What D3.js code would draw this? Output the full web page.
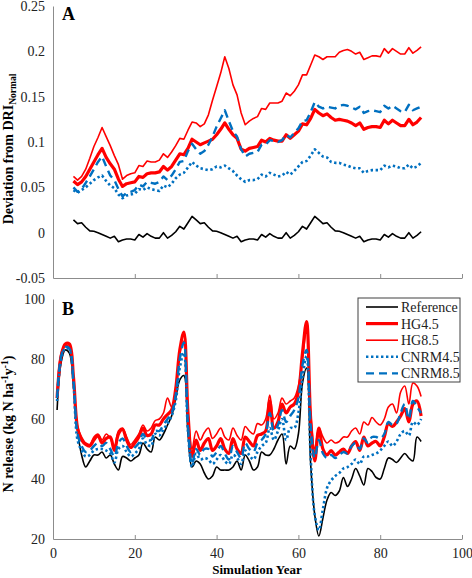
<!DOCTYPE html>
<html><head><meta charset="utf-8">
<script src="https://cdn.jsdelivr.net/npm/d3@7"></script>
<style>
html,body{margin:0;padding:0;background:#fff;}
svg{display:block;font-family:"Liberation Serif","Times New Roman",serif;}
</style></head>
<body>
<svg id="chart" width="472" height="578"></svg>
<script>
// ---------- DATA ----------
const seriesNames = ["Reference", "HG4.5", "HG8.5", "CNRM4.5", "CNRM8.5"];
const yearsA = d3.range(5, 91);   // simulation years shown in panel A
const yearsB = d3.range(1, 91);   // simulation years shown in panel B
const yTicksA = [-0.05, 0, 0.05, 0.1, 0.15, 0.2, 0.25];
const yTicksB = [20, 40, 60, 80, 100];
const xTicks = [0, 20, 40, 60, 80, 100];

// Panel A: deviation from DRI_Normal (years 5..90)
const refA = [0.014,0.010,0.011,0.006,0.002,0.0015,0.000,-0.002,-0.004,-0.006,-0.004,-0.010,-0.008,-0.007,-0.007,-0.008,-0.002,-0.005,-0.001,-0.004,-0.006,-0.006,0.000,-0.006,-0.003,0.001,0.007,0.004,0.011,0.018,
  0.014,0.010,0.011,0.006,0.002,0.0015,0.000,-0.002,-0.004,-0.006,-0.004,-0.010,-0.008,-0.007,-0.007,-0.008,-0.002,-0.005,-0.001,-0.004,-0.006,-0.006,0.000,-0.006,-0.003,0.001,0.007,0.004,0.011,0.018,
  0.014,0.010,0.011,0.006,0.002,0.0015,0.000,-0.002,-0.004,-0.006,-0.004,-0.010,-0.008,-0.007,-0.007,-0.008,-0.002,-0.005,-0.001,-0.004,-0.006,-0.006,0.000,-0.006,-0.003,0.001];
const hg45A = [0.057,0.053,0.056,0.062,0.070,0.078,0.086,0.093,0.083,0.076,0.070,0.059,0.051,0.054,0.055,0.056,0.062,0.061,0.065,0.066,0.066,0.067,0.073,0.069,0.073,0.080,0.087,0.086,0.093,0.103,
  0.100,0.097,0.099,0.101,0.103,0.108,0.114,0.121,0.114,0.108,0.104,0.092,0.090,0.093,0.094,0.095,0.102,0.100,0.104,0.102,0.101,0.101,0.108,0.104,0.108,0.112,0.120,0.119,0.126,0.136,
  0.132,0.129,0.131,0.127,0.124,0.125,0.124,0.123,0.121,0.118,0.121,0.114,0.116,0.117,0.117,0.116,0.124,0.120,0.124,0.121,0.118,0.118,0.125,0.119,0.122,0.127];
const hg85A = [0.062,0.058,0.062,0.070,0.082,0.095,0.105,0.116,0.106,0.096,0.085,0.075,0.059,0.063,0.065,0.066,0.074,0.073,0.079,0.078,0.078,0.080,0.087,0.083,0.089,0.096,0.104,0.103,0.113,0.122,
  0.121,0.117,0.120,0.130,0.146,0.161,0.176,0.194,0.181,0.163,0.152,0.132,0.119,0.123,0.126,0.128,0.137,0.136,0.143,0.143,0.143,0.145,0.154,0.151,0.156,0.163,0.174,0.174,0.185,0.196,
  0.194,0.191,0.194,0.194,0.194,0.199,0.201,0.202,0.200,0.197,0.199,0.191,0.193,0.195,0.195,0.194,0.203,0.198,0.203,0.200,0.197,0.197,0.204,0.198,0.201,0.205];
const cnrm45A = [0.047,0.044,0.047,0.050,0.054,0.058,0.061,0.063,0.057,0.052,0.049,0.042,0.038,0.041,0.042,0.043,0.048,0.047,0.050,0.048,0.047,0.046,0.052,0.050,0.054,0.060,0.064,0.066,0.072,0.078,
  0.074,0.071,0.070,0.069,0.070,0.073,0.072,0.074,0.071,0.068,0.063,0.059,0.056,0.058,0.058,0.059,0.064,0.062,0.066,0.064,0.062,0.063,0.067,0.064,0.068,0.073,0.078,0.079,0.085,0.092,
  0.088,0.084,0.083,0.078,0.077,0.077,0.075,0.074,0.072,0.071,0.071,0.066,0.068,0.069,0.069,0.069,0.074,0.072,0.074,0.073,0.071,0.071,0.075,0.071,0.073,0.077];
const cnrm85A = [0.050,0.045,0.048,0.055,0.062,0.070,0.078,0.084,0.073,0.063,0.058,0.048,0.040,0.044,0.045,0.047,0.053,0.051,0.056,0.055,0.054,0.056,0.062,0.058,0.063,0.070,0.078,0.079,0.090,0.098,
  0.092,0.087,0.090,0.097,0.106,0.117,0.126,0.135,0.123,0.112,0.106,0.092,0.084,0.087,0.088,0.089,0.097,0.097,0.102,0.101,0.100,0.102,0.108,0.105,0.110,0.115,0.123,0.124,0.133,0.144,
  0.139,0.137,0.139,0.138,0.137,0.140,0.141,0.140,0.138,0.136,0.139,0.132,0.134,0.135,0.134,0.133,0.140,0.137,0.140,0.137,0.134,0.133,0.141,0.135,0.137,0.139];

// Panel B: N release, kg N ha-1 y-1 (years 1..90)
const refB = [63,79,83,82,71,56,48,44,46,48,48,49,47,48,45,43,47.5,47,46,47,48,52,50,49,54,53,55,58,61,67,
  73,74.5,55,44,46,45,42,40,41,44,43,43,43,44,46,43,48,46,43,44,49,48,48,50,53,55,45,51,50,55,
  72,77,45,28,21,27,33,35.5,34.5,36,40.5,37.5,40,43.5,41,38,43.5,42.5,40.5,40,43.5,47,46.5,45.5,47,48.5,47,46,54,52.5];
const hg45B = [67,81,85,85,74,57,53,51.5,51,53,54.5,52,53.5,54,49.5,55,56.5,53,50.5,52,54,57,54.5,55,58,58,60,61.5,63,70,
  83,89,62,47.5,53,49.5,52,53.5,49.5,51,53.5,50,48.5,53.5,50,48.5,54,52.5,51,54.5,55,56,66,57,59,65,62,64,65,69,
  82,92.5,60,46,57,50,48,49.5,48,49,50,48.5,51,52.5,49.5,54,51,52,52.5,51,54,58.5,57.5,59,61,63.5,59,65,66,61];
const hg85B = [68,82,84.5,84,73,57.5,54,52,51.5,54,55,53,55,53.5,50.5,56,57,54,51.5,53,55,58,56,57,59.5,60,62,67,64,69,
  82,86,62,50,56,53,55.5,57,53.5,55,57,54,53,57,54.5,53,57.5,56,55,58.5,58,60,68,60,62,67,65,66,67,71,
  80,90,62,50,57,54,52,53,52,52.5,54,54,56,57,55,59,58,60.5,59,58,60,64,65,62,69,71,65,72,71,67.5];
const cnrm45B = [66,80,83.5,83,72,53,49.5,47.5,48,49.5,50,50,49.5,48.5,45.5,50,51,49,47.5,48.5,50,53.5,51.5,51,55,54.5,56.5,58.5,61,66,
  77,82,56,44,48.5,46.5,47,46.5,45,46.5,48,46,45,48,47,45,49.5,48,46.5,49,51,52,57,53,56,60,53,57,57,62,
  74,81,47,28,23,30,37,39.5,41,42,43.5,44,45,46.5,45,47.5,47.5,48,48.5,49.5,51,52.5,51,52.5,55,56,54.5,59,58,60];
const cnrm85B = [67,81,84,83.5,73,55,51,49,49.5,51,52,51,52,50,47.5,52,53.5,51,49,50.5,52,55,53,53,56,56,58,60,62,68,
  80,85.5,58,45,50,48,50,50,47.5,49,51,48.5,46.5,51,49,47,52,50,49,52,53,55,62,56,58,63,59,61,63,67,
  78,83,58,47,53,48.5,47,48,47,48,49,48.5,51,52,50,53.5,52,54,54,53.5,55,59,58,58.5,62,65,60,66,64,62];

// ---------- DRAWING ----------
const svg = d3.select("#chart");
const serif = '"Liberation Serif","Times New Roman",serif';
const axisColor = "#8c8c8c";
const styles = [
  {color:"#000000", width:1.6, dash:null},
  {color:"#ff0000", width:3.2, dash:null},
  {color:"#ff0000", width:1.6, dash:null},
  {color:"#0070c0", width:2.6, dash:"2.4,2.6"},
  {color:"#0070c0", width:2.4, dash:"8,5"}
];

const x = d3.scaleLinear().domain([0, 100]).range([53, 462]);
const yA = d3.scaleLinear().domain([-0.05, 0.25]).range([278, 6]);
const yB = d3.scaleLinear().domain([20, 100]).range([539, 299]);

function styleAxis(g){
  g.attr("font-family", serif).attr("font-size", 14);
  g.select(".domain").attr("stroke", axisColor).attr("stroke-width", 1);
  g.selectAll(".tick line").attr("stroke", axisColor);
  g.selectAll(".tick text").attr("fill", "#222").attr("font-size", 14).attr("font-family", serif);
}

// Panel A axes
svg.append("g").attr("transform", "translate(53,0)")
  .call(d3.axisLeft(yA).tickValues(yTicksA).tickSize(0).tickPadding(8)
    .tickFormat(d => d === 0 ? "0" : String(d).replace("\u2212","-")))
  .call(styleAxis);
svg.append("g").attr("transform", "translate(0,278)")
  .call(d3.axisBottom(x).tickValues(xTicks).tickSizeInner(-4).tickSizeOuter(0).tickFormat(""))
  .call(styleAxis);

// Panel B axes
svg.append("g").attr("transform", "translate(53,0)")
  .call(d3.axisLeft(yB).tickValues(yTicksB).tickSize(0).tickPadding(8))
  .call(styleAxis);
svg.append("g").attr("transform", "translate(0,539)")
  .call(d3.axisBottom(x).tickValues(xTicks).tickSizeInner(-4).tickSizeOuter(0).tickPadding(9))
  .call(styleAxis);

// Lines
const dataA = [refA, hg45A, hg85A, cnrm45A, cnrm85A];
const dataB = [refB, hg45B, hg85B, cnrm45B, cnrm85B];
const lineA = d3.line().x((d,i) => x(yearsA[i])).y(d => yA(d));
const lineB = d3.line().x((d,i) => x(yearsB[i])).y(d => yB(d)).curve(d3.curveCatmullRom.alpha(0.5));

dataA.forEach((s, k) => {
  svg.append("path").attr("d", lineA(s)).attr("fill", "none")
    .attr("stroke", styles[k].color).attr("stroke-width", styles[k].width)
    .attr("stroke-linejoin", "round")
    .attr("stroke-dasharray", styles[k].dash);
});
dataB.forEach((s, k) => {
  svg.append("path").attr("d", lineB(s)).attr("fill", "none")
    .attr("stroke", styles[k].color).attr("stroke-width", styles[k].width)
    .attr("stroke-linejoin", "round")
    .attr("stroke-dasharray", styles[k].dash);
});

// Panel letters
svg.append("text").attr("x", 62).attr("y", 20).attr("font-size", 18).attr("font-weight", "bold").text("A");
svg.append("text").attr("x", 62).attr("y", 315).attr("font-size", 18).attr("font-weight", "bold").text("B");

// Y titles
const tA = svg.append("text").attr("transform", "translate(13,149) rotate(-90)")
  .attr("text-anchor", "middle").attr("font-size", 14).attr("font-weight", "bold");
tA.append("tspan").text("Deviation from DRI");
tA.append("tspan").attr("font-size", 9.5).attr("dy", 3).text("Normal");

const tB = svg.append("text").attr("transform", "translate(13,424) rotate(-90)")
  .attr("text-anchor", "middle").attr("font-size", 14).attr("font-weight", "bold");
tB.append("tspan").text("N release (kg N ha");
tB.append("tspan").attr("font-size", 9.5).attr("dy", -5).text("-1");
tB.append("tspan").attr("dy", 5).text("y");
tB.append("tspan").attr("font-size", 9.5).attr("dy", -5).text("-1");
tB.append("tspan").attr("dy", 5).text(")");

// X title
svg.append("text").attr("x", 257).attr("y", 574).attr("text-anchor", "middle")
  .attr("font-size", 13).attr("font-weight", "bold").text("Simulation Year");

// Legend
const lg = svg.append("g");
lg.append("rect").attr("x", 358).attr("y", 298).attr("width", 102).attr("height", 84)
  .attr("fill", "#fff").attr("stroke", "#404040").attr("stroke-width", 1);
seriesNames.forEach((n, k) => {
  const cy = 307 + k * 16.6;
  lg.append("line").attr("x1", 366).attr("x2", 398).attr("y1", cy).attr("y2", cy)
    .attr("stroke", styles[k].color).attr("stroke-width", styles[k].width)
    .attr("stroke-dasharray", styles[k].dash);
  lg.append("text").attr("x", 401).attr("y", cy + 5).attr("font-size", 14).attr("fill", "#222").text(n);
});
</script>
</body></html>
